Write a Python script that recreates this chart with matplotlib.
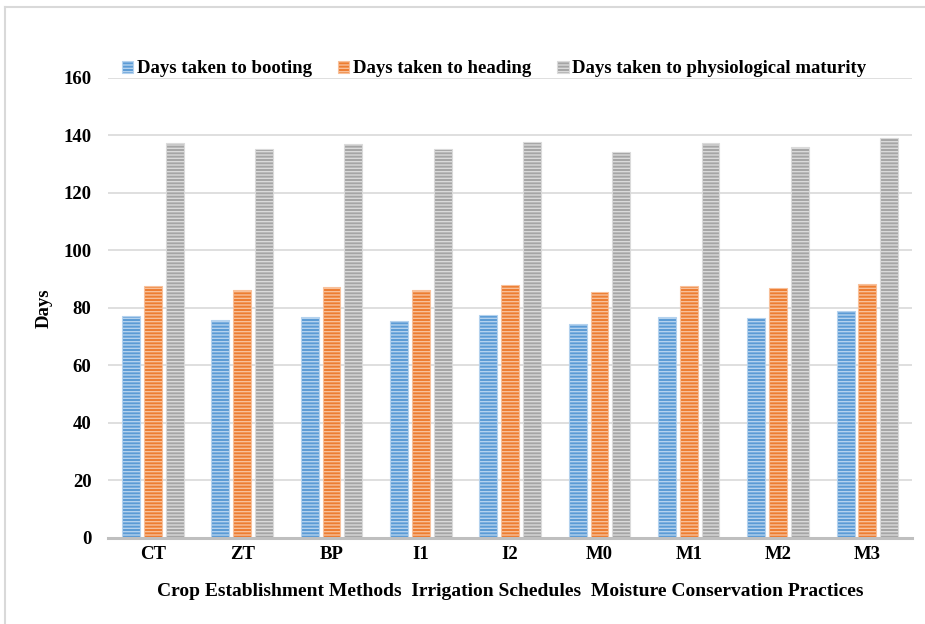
import matplotlib.pyplot as plt
import numpy as np
from matplotlib.lines import Line2D

categories = ['CT', 'ZT', 'BP', 'I1', 'I2', 'M0', 'M1', 'M2', 'M3']
booting = [77.2, 75.9, 76.8, 75.5, 77.7, 74.5, 76.8, 76.5, 79.0]
heading = [87.8, 86.1, 87.4, 86.1, 88.1, 85.7, 87.5, 86.8, 88.4]
maturity = [137.3, 135.3, 137.0, 135.3, 137.6, 134.1, 137.3, 136.1, 139.0]
series_names = ['Days taken to booting', 'Days taken to heading',
                'Days taken to physiological maturity']
x_label = 'Crop Establishment Methods  Irrigation Schedules  Moisture Conservation Practices'


def main():
    plt.rcParams['font.family'] = ['Liberation Serif', 'DejaVu Serif']
    plt.rcParams['font.weight'] = 'bold'
    fs = 13.5

    fig = plt.figure(figsize=(9.25, 6.24), dpi=100)
    ax = fig.add_axes([0.117, 0.138, 0.869, 0.737])

    x = np.arange(len(categories))
    w = 0.2
    step = 0.244
    # (fill, light stripe colour)
    styles = [('#5b9bd5', '#b4d2ee'), ('#ed7d31', '#f8c09a'), ('#a5a5a5', '#dadada')]
    for i, (vals, name) in enumerate(zip([booting, heading, maturity], series_names)):
        face, stripe = styles[i]
        ax.bar(x + (i - 1) * step, vals, w, color=face, edgecolor=stripe,
               hatch='-----', linewidth=0.8, label=name, zorder=3)

    ax.set_xlim(-0.5, 8.5)
    ax.set_ylim(0, 160)
    ax.set_yticks(range(0, 161, 20))
    ax.set_xticks(x)
    ax.set_xticklabels(categories)
    ax.tick_params(axis='both', length=0, labelsize=fs)
    ax.tick_params(axis='x', pad=6)
    ax.tick_params(axis='y', pad=12)
    for s in ['top', 'right', 'left']:
        ax.spines[s].set_visible(False)
    ax.spines['bottom'].set_color('#bfbfbf')
    ax.spines['bottom'].set_linewidth(2.2)
    ax.spines['bottom'].set_zorder(4)
    ax.yaxis.grid(True, color='#d9d9d9', linewidth=1.2, zorder=0)
    ax.set_axisbelow(True)

    ax.set_ylabel('Days', fontsize=fs, fontweight='bold', labelpad=8)
    ax.set_xlabel(x_label, fontsize=14, fontweight='bold', labelpad=14)

    leg = ax.legend(loc='lower center', bbox_to_anchor=(0.48, 0.985), ncol=3,
                    frameon=False, fontsize=fs, handlelength=0.6, handleheight=0.6,
                    handletextpad=0.2, columnspacing=1.4, borderaxespad=0)
    for t in leg.get_texts():
        t.set_fontweight('bold')

    # light frame of the original chart box
    fig.add_artist(Line2D([0.005, 1.0], [0.989, 0.989], transform=fig.transFigure,
                          color='#d9d9d9', linewidth=1.5))
    fig.add_artist(Line2D([0.005, 0.005], [0.0, 0.989], transform=fig.transFigure,
                          color='#d9d9d9', linewidth=1.5))

    fig.savefig('out.png', dpi=100)


if __name__ == '__main__':
    main()
